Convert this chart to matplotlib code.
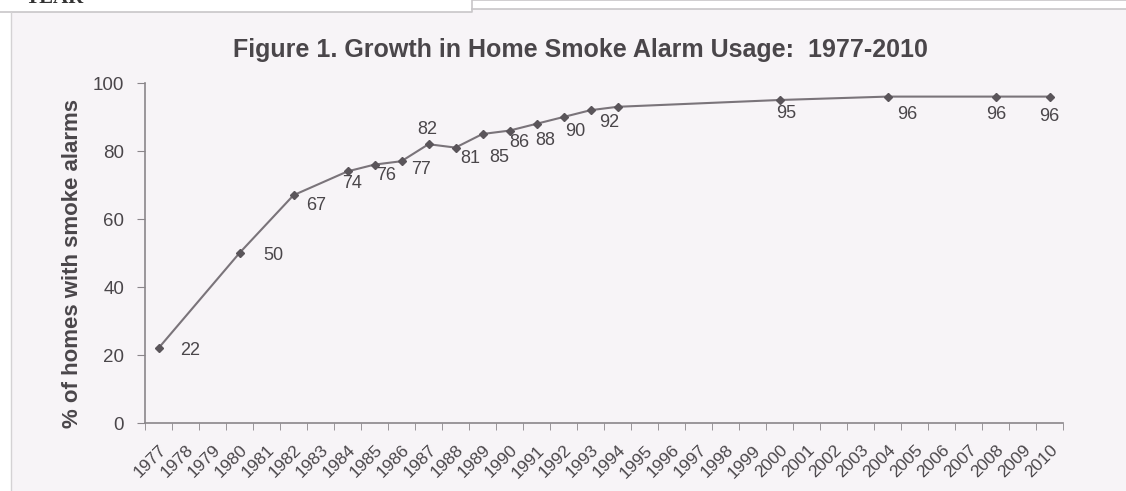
import numpy as np
import matplotlib.pyplot as plt
from matplotlib.patches import Rectangle
from matplotlib.lines import Line2D

years = list(range(1977, 2011))
data_years = [1977, 1980, 1982, 1984, 1985, 1986, 1987, 1988, 1989, 1990,
              1991, 1992, 1993, 1994, 2000, 2004, 2008, 2010]
pct = [22, 50, 67, 74, 76, 77, 82, 81, 85, 86, 88, 90, 92, 93, 95, 96, 96, 96]
labels = ['22', '50', '67', '74', '76', '77', '82', '81', '85', '86',
          '88', '90', '92', '', '95', '96', '96', '96']
# label offsets in pixels (dx, dy) - picked by eye
offs = [(32, -2), (34, -3), (23, -10), (5, -12), (12, -11), (20, -8), (-1, 15),
        (15, -11), (17, -23), (10, -12), (9, -17), (12, -14), (19, -12), (0, 0),
        (7, -13), (20, -18), (1, -18), (0, -20)]

plt.rcParams['font.family'] = ['Liberation Sans', 'DejaVu Sans']
txt = '#4a464a'
gray = '#8a868a'

fig = plt.figure(figsize=(11.26, 4.91), dpi=100)
fig.patch.set_facecolor('white')

# scanned page background + white header strip
W, H = 1126, 491
fig.patches.append(Rectangle((11 / W, 0), 1 - 11 / W, 1 - 12 / H, transform=fig.transFigure,
                             facecolor='#f7f4f7', edgecolor='none', zorder=-5))
fig.patches.append(Rectangle((472 / W, 1 - 12 / H), 1 - 472 / W, 3 / H, transform=fig.transFigure,
                             facecolor='#f7f4f7', edgecolor='none', zorder=-5))
fig.lines.append(Line2D([0, 472 / W, 472 / W, 1], [1 - 12 / H, 1 - 12 / H, 1, 1],
                        transform=fig.transFigure, color='#c8c6c8', lw=1.2, zorder=-4))
fig.lines.append(Line2D([472 / W, 1], [1 - 9 / H, 1 - 9 / H], transform=fig.transFigure,
                        color='#c8c6c8', lw=1.2, zorder=-4))
fig.lines.append(Line2D([11 / W, 11 / W], [0, 1 - 12 / H], transform=fig.transFigure,
                        color='#d4d2d4', lw=1.0, zorder=-4))
fig.text(25 / W, 1 - 3 / H, 'YEAR', family='Liberation Serif', weight='bold',
         fontsize=15, color='#333333', va='baseline')

ax = fig.add_axes([145 / W, 1 - 423 / H, (1063 - 145) / W, (423 - 83) / H])
ax.set_facecolor('none')
ax.set_zorder(2)

ax.plot(data_years, pct, color='#7a747a', lw=1.5, marker='D', markersize=4.5,
        markerfacecolor='#5a555a', markeredgecolor='#5a555a', zorder=3)

for x, y, lab, (dx, dy) in zip(data_years, pct, labels, offs):
    if lab:
        ax.annotate(lab, (x, y), xytext=(dx, dy), textcoords='offset pixels',
                    ha='center', va='center', fontsize=13, color=txt)

ax.set_xlim(1976.5, 2010.5)
ax.set_ylim(0, 100)
ax.set_yticks([0, 20, 40, 60, 80, 100])
ax.set_xticks(years)
ax.set_xticklabels([str(y) for y in years], rotation=45, ha='right',
                   rotation_mode='anchor', fontsize=12.5, color=txt)
ax.set_xticks(np.arange(1976.5, 2011, 1), minor=True)
ax.tick_params(axis='x', which='major', length=0, pad=14)
ax.tick_params(axis='x', which='minor', length=5, color=gray, direction='out')
ax.tick_params(axis='y', length=6, color=gray, labelsize=13.5, labelcolor=txt, pad=9)

for s in ['top', 'right']:
    ax.spines[s].set_visible(False)
for s in ['left', 'bottom']:
    ax.spines[s].set_color(gray)
    ax.spines[s].set_linewidth(1.2)

ax.set_ylabel('% of homes with smoke alarms', fontsize=16, weight='bold',
              color=txt)
ax.yaxis.set_label_coords(-0.0675, 0.47)

fig.text(580 / W, 1 - 50 / H, 'Figure 1. Growth in Home Smoke Alarm Usage:  1977-2010',
         ha='center', va='center', fontsize=18, weight='bold', color=txt)

fig.savefig('out.png', dpi=100)
